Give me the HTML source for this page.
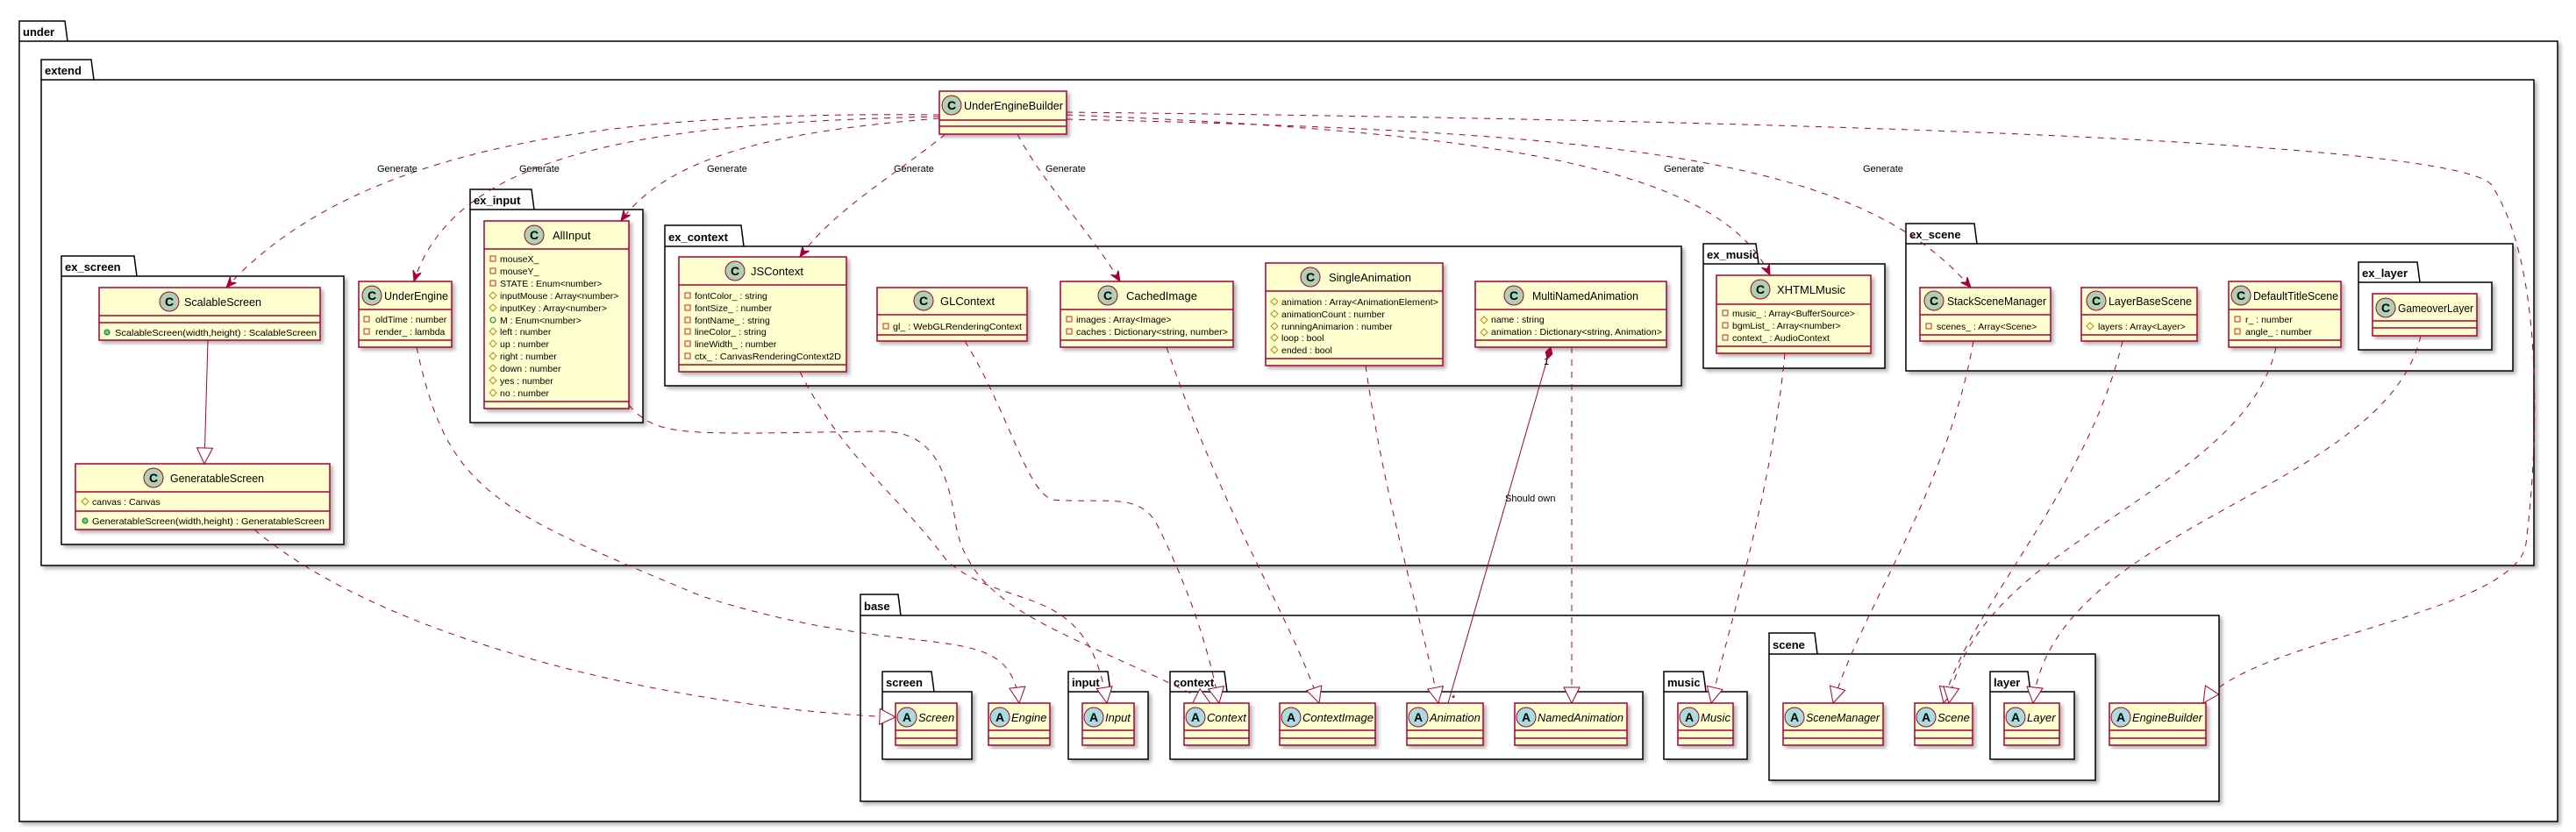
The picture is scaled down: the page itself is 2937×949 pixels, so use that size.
<!DOCTYPE html>
<html><head><meta charset="utf-8"><style>
html,body{margin:0;padding:0;background:#fff;}
svg{display:block;}
text{font-family:"Liberation Sans",sans-serif;}
.pk{font-weight:bold;font-size:13px;fill:#000;}
.cn{font-size:13px;fill:#000;}
.an{font-size:13px;fill:#000;font-style:italic;}
.m{font-size:10.5px;fill:#000;}
.lb{font-size:11px;fill:#000;}
.cl{fill:#FEFECE;stroke:#A80036;stroke-width:1.5;filter:url(#sh);}
.ln{stroke:#A80036;stroke-width:1.5;}
.pkg{fill:#fff;stroke:#000;stroke-width:1.5;filter:url(#sh);}
.tab{fill:#fff;stroke:#000;stroke-width:1.5;}
.ic{fill:#ADD1B2;stroke:#A80036;stroke-width:1;}
.ia{fill:#A9DCDF;stroke:#A80036;stroke-width:1;}
.il{font-size:14px;fill:#000;font-weight:bold;}
.e{fill:none;stroke:#A80036;stroke-width:1;stroke-dasharray:7,7;}
.es{fill:none;stroke:#A80036;stroke-width:1;}
.sq{fill:none;stroke:#C82930;stroke-width:1;}
.dm{fill:none;stroke:#B38D22;stroke-width:1;}
.pb{fill:#84BE84;stroke:#038048;stroke-width:1;}
.po{fill:none;stroke:#038048;stroke-width:1;}
</style></head><body>
<svg width="2937" height="949" viewBox="0 0 2937 949" xmlns="http://www.w3.org/2000/svg">
<defs>
<filter id="sh" x="-5%" y="-5%" width="115%" height="115%"><feDropShadow dx="3" dy="3" stdDeviation="2" flood-color="#000" flood-opacity="0.3"/></filter>
<marker id="ar" markerUnits="userSpaceOnUse" markerWidth="14" markerHeight="12" refX="12" refY="5" orient="auto"><path d="M0,0 L12,5 L0,10 L4,5 Z" fill="#A80036" stroke="#A80036"/></marker>
<marker id="tr" markerUnits="userSpaceOnUse" markerWidth="22" markerHeight="22" refX="19" refY="10" orient="auto"><path d="M1,1 L19,10 L1,19 Z" fill="#fff" stroke="#A80036" stroke-width="1"/></marker>
<marker id="dia" markerUnits="userSpaceOnUse" markerWidth="20" markerHeight="12" refX="1" refY="5" orient="auto"><path d="M1,5 L8,1 L15,5 L8,9 Z" fill="#A80036" stroke="#A80036"/></marker>
</defs>

<!-- Packages -->
<path class="tab" d="M22,47 V24 H74 L77,47"/><rect class="pkg" x="22" y="47" width="2894" height="890"/><text class="pk" x="26" y="41">under</text>
<path class="tab" d="M47,91 V68 H104 L107,91"/><rect class="pkg" x="47" y="91" width="2842" height="554"/><text class="pk" x="51" y="85">extend</text>
<path class="tab" d="M70,315 V292 H153 L156,315"/><rect class="pkg" x="70" y="315" width="322" height="306"/><text class="pk" x="74" y="309">ex_screen</text>
<path class="tab" d="M536,239 V216 H606 L609,239"/><rect class="pkg" x="536" y="239" width="197" height="243"/><text class="pk" x="540" y="233">ex_input</text>
<path class="tab" d="M758,281 V257 H845 L848,281"/><rect class="pkg" x="758" y="281" width="1159" height="159"/><text class="pk" x="762" y="275">ex_context</text>
<path class="tab" d="M1942,301 V278 H2002 L2005,301"/><rect class="pkg" x="1942" y="301" width="207" height="119"/><text class="pk" x="1946" y="295">ex_music</text>
<path class="tab" d="M2173,278 V255 H2251 L2254,278"/><rect class="pkg" x="2173" y="278" width="692" height="145"/><text class="pk" x="2177" y="272">ex_scene</text>
<path class="tab" d="M2689,322 V299 H2756 L2759,322"/><rect class="pkg" x="2689" y="322" width="152" height="77"/><text class="pk" x="2693" y="316">ex_layer</text>

<path class="tab" d="M981,702 V678 H1024 L1027,702"/><rect class="pkg" x="981" y="702" width="1549" height="212"/><text class="pk" x="985" y="696">base</text>
<path class="tab" d="M1006,789 V766 H1062 L1065,789"/><rect class="pkg" x="1006" y="789" width="102" height="77"/><text class="pk" x="1010" y="783">screen</text>
<path class="tab" d="M1218,789 V766 H1263 L1266,789"/><rect class="pkg" x="1218" y="789" width="91" height="77"/><text class="pk" x="1222" y="783">input</text>
<path class="tab" d="M1334,789 V766 H1396 L1399,789"/><rect class="pkg" x="1334" y="789" width="539" height="77"/><text class="pk" x="1338" y="783">context</text>
<path class="tab" d="M1897,789 V766 H1942 L1945,789"/><rect class="pkg" x="1897" y="789" width="95" height="77"/><text class="pk" x="1901" y="783">music</text>
<path class="tab" d="M2017,746 V722 H2069 L2072,746"/><rect class="pkg" x="2017" y="746" width="372" height="144"/><text class="pk" x="2021" y="740">scene</text>
<path class="tab" d="M2269,789 V766 H2312 L2315,789"/><rect class="pkg" x="2269" y="789" width="96" height="77"/><text class="pk" x="2273" y="783">layer</text>

<!-- Classes -->
<!-- UnderEngineBuilder -->
<rect class="cl" x="1071" y="104" width="145" height="49"/><line class="ln" x1="1071" y1="137" x2="1216" y2="137"/><line class="ln" x1="1071" y1="144" x2="1216" y2="144"/>
<circle class="ic" cx="1085" cy="120" r="11"/><text class="il" x="1080" y="125">C</text><text class="cn" x="1099" y="125" textLength="113" lengthAdjust="spacingAndGlyphs">UnderEngineBuilder</text>

<!-- ScalableScreen -->
<rect class="cl" x="113" y="328" width="252" height="60"/><line class="ln" x1="113" y1="360" x2="365" y2="360"/><line class="ln" x1="113" y1="368" x2="365" y2="368"/>
<circle class="ic" cx="193" cy="344" r="11"/><text class="il" x="188" y="349">C</text><text class="cn" x="210" y="349" textLength="88" lengthAdjust="spacingAndGlyphs">ScalableScreen</text>
<circle class="pb" cx="122" cy="379" r="3"/><text class="m" x="131" y="383" textLength="230" lengthAdjust="spacingAndGlyphs">ScalableScreen(width,height) : ScalableScreen</text>

<!-- GeneratableScreen -->
<rect class="cl" x="86" y="529" width="290" height="75"/><line class="ln" x1="86" y1="561" x2="376" y2="561"/><line class="ln" x1="86" y1="583" x2="376" y2="583"/>
<circle class="ic" cx="175" cy="545" r="11"/><text class="il" x="170" y="550">C</text><text class="cn" x="194" y="550" textLength="107" lengthAdjust="spacingAndGlyphs">GeneratableScreen</text>
<path class="dm" d="M97,568 L101,572 L97,576 L93,572 Z"/><text class="m" x="105" y="576">canvas : Canvas</text>
<circle class="pb" cx="97" cy="594" r="3"/><text class="m" x="105" y="598" textLength="265" lengthAdjust="spacingAndGlyphs">GeneratableScreen(width,height) : GeneratableScreen</text>

<!-- UnderEngine -->
<rect class="cl" x="409" y="321" width="106" height="75"/><line class="ln" x1="409" y1="353" x2="515" y2="353"/><line class="ln" x1="409" y1="388" x2="515" y2="388"/>
<circle class="ic" cx="424" cy="337" r="11"/><text class="il" x="419" y="342">C</text><text class="cn" x="438" y="342" textLength="73" lengthAdjust="spacingAndGlyphs">UnderEngine</text>
<rect class="sq" x="415" y="361" width="6" height="6"/><text class="m" x="428" y="368">oldTime : number</text>
<rect class="sq" x="415" y="375" width="6" height="6"/><text class="m" x="428" y="382">render_ : lambda</text>

<!-- AllInput -->
<rect class="cl" x="552" y="252" width="165" height="214"/><line class="ln" x1="552" y1="284" x2="717" y2="284"/><line class="ln" x1="552" y1="458" x2="717" y2="458"/>
<circle class="ic" cx="609" cy="268" r="11"/><text class="il" x="604" y="273">C</text><text class="cn" x="630" y="273">AllInput</text>
<rect class="sq" x="559" y="292" width="6" height="6"/><text class="m" x="570" y="299">mouseX_</text>
<rect class="sq" x="559" y="306" width="6" height="6"/><text class="m" x="570" y="313">mouseY_</text>
<rect class="sq" x="559" y="320" width="6" height="6"/><text class="m" x="570" y="327">STATE : Enum&lt;number&gt;</text>
<path class="dm" d="M562,333 L566,337 L562,341 L558,337 Z"/><text class="m" x="570" y="341">inputMouse : Array&lt;number&gt;</text>
<path class="dm" d="M562,347 L566,351 L562,355 L558,351 Z"/><text class="m" x="570" y="355">inputKey : Array&lt;number&gt;</text>
<circle class="po" cx="562" cy="365" r="3"/><text class="m" x="570" y="369">M : Enum&lt;number&gt;</text>
<path class="dm" d="M562,374 L566,378 L562,382 L558,378 Z"/><text class="m" x="570" y="382">left : number</text>
<path class="dm" d="M562,388 L566,392 L562,396 L558,392 Z"/><text class="m" x="570" y="396">up : number</text>
<path class="dm" d="M562,402 L566,406 L562,410 L558,406 Z"/><text class="m" x="570" y="410">right : number</text>
<path class="dm" d="M562,416 L566,420 L562,424 L558,420 Z"/><text class="m" x="570" y="424">down : number</text>
<path class="dm" d="M562,430 L566,434 L562,438 L558,434 Z"/><text class="m" x="570" y="438">yes : number</text>
<path class="dm" d="M562,444 L566,448 L562,452 L558,448 Z"/><text class="m" x="570" y="452">no : number</text>

<!-- JSContext -->
<rect class="cl" x="774" y="293" width="191" height="131"/><line class="ln" x1="774" y1="325" x2="965" y2="325"/><line class="ln" x1="774" y1="416" x2="965" y2="416"/>
<circle class="ic" cx="838" cy="309" r="11"/><text class="il" x="833" y="314">C</text><text class="cn" x="856" y="314">JSContext</text>
<rect class="sq" x="781" y="334" width="6" height="6"/><text class="m" x="792" y="341">fontColor_ : string</text>
<rect class="sq" x="781" y="348" width="6" height="6"/><text class="m" x="792" y="355">fontSize_ : number</text>
<rect class="sq" x="781" y="362" width="6" height="6"/><text class="m" x="792" y="369">fontName_ : string</text>
<rect class="sq" x="781" y="375" width="6" height="6"/><text class="m" x="792" y="382">lineColor_ : string</text>
<rect class="sq" x="781" y="389" width="6" height="6"/><text class="m" x="792" y="396">lineWidth_ : number</text>
<rect class="sq" x="781" y="403" width="6" height="6"/><text class="m" x="792" y="410" textLength="167" lengthAdjust="spacingAndGlyphs">ctx_ : CanvasRenderingContext2D</text>

<!-- GLContext -->
<rect class="cl" x="1000" y="328" width="171" height="61"/><line class="ln" x1="1000" y1="359" x2="1171" y2="359"/><line class="ln" x1="1000" y1="382" x2="1171" y2="382"/>
<circle class="ic" cx="1053" cy="343" r="11"/><text class="il" x="1048" y="348">C</text><text class="cn" x="1072" y="348">GLContext</text>
<rect class="sq" x="1007" y="369" width="6" height="6"/><text class="m" x="1018" y="376" textLength="147" lengthAdjust="spacingAndGlyphs">gl_ : WebGLRenderingContext</text>

<!-- CachedImage -->
<rect class="cl" x="1209" y="321" width="197" height="75"/><line class="ln" x1="1209" y1="353" x2="1406" y2="353"/><line class="ln" x1="1209" y1="388" x2="1406" y2="388"/>
<circle class="ic" cx="1263" cy="337" r="11"/><text class="il" x="1258" y="342">C</text><text class="cn" x="1284" y="342">CachedImage</text>
<rect class="sq" x="1216" y="361" width="6" height="6"/><text class="m" x="1227" y="368">images : Array&lt;Image&gt;</text>
<rect class="sq" x="1216" y="375" width="6" height="6"/><text class="m" x="1227" y="382" textLength="173" lengthAdjust="spacingAndGlyphs">caches : Dictionary&lt;string, number&gt;</text>

<!-- SingleAnimation -->
<rect class="cl" x="1443" y="300" width="202" height="117"/><line class="ln" x1="1443" y1="332" x2="1645" y2="332"/><line class="ln" x1="1443" y1="409" x2="1645" y2="409"/>
<circle class="ic" cx="1494" cy="316" r="11"/><text class="il" x="1489" y="321">C</text><text class="cn" x="1515" y="321">SingleAnimation</text>
<path class="dm" d="M1453,340 L1457,344 L1453,348 L1449,344 Z"/><text class="m" x="1461" y="348" textLength="179" lengthAdjust="spacingAndGlyphs">animation : Array&lt;AnimationElement&gt;</text>
<path class="dm" d="M1453,354 L1457,358 L1453,362 L1449,358 Z"/><text class="m" x="1461" y="362">animationCount : number</text>
<path class="dm" d="M1453,368 L1457,372 L1453,376 L1449,372 Z"/><text class="m" x="1461" y="376">runningAnimarion : number</text>
<path class="dm" d="M1453,381 L1457,385 L1453,389 L1449,385 Z"/><text class="m" x="1461" y="389">loop : bool</text>
<path class="dm" d="M1453,395 L1457,399 L1453,403 L1449,399 Z"/><text class="m" x="1461" y="403">ended : bool</text>

<!-- MultiNamedAnimation -->
<rect class="cl" x="1682" y="321" width="218" height="75"/><line class="ln" x1="1682" y1="353" x2="1900" y2="353"/><line class="ln" x1="1682" y1="388" x2="1900" y2="388"/>
<circle class="ic" cx="1726" cy="337" r="11"/><text class="il" x="1721" y="342">C</text><text class="cn" x="1747" y="342" textLength="121" lengthAdjust="spacingAndGlyphs">MultiNamedAnimation</text>
<path class="dm" d="M1692,361 L1696,365 L1692,369 L1688,365 Z"/><text class="m" x="1700" y="368">name : string</text>
<path class="dm" d="M1692,375 L1696,379 L1692,383 L1688,379 Z"/><text class="m" x="1700" y="382" textLength="195" lengthAdjust="spacingAndGlyphs">animation : Dictionary&lt;string, Animation&gt;</text>

<!-- XHTMLMusic -->
<rect class="cl" x="1957" y="314" width="176" height="89"/><line class="ln" x1="1957" y1="347" x2="2133" y2="347"/><line class="ln" x1="1957" y1="395" x2="2133" y2="395"/>
<circle class="ic" cx="2007" cy="330" r="11"/><text class="il" x="2002" y="335">C</text><text class="cn" x="2026" y="335">XHTMLMusic</text>
<rect class="sq" x="1964" y="354" width="6" height="6"/><text class="m" x="1975" y="361">music_ : Array&lt;BufferSource&gt;</text>
<rect class="sq" x="1964" y="368" width="6" height="6"/><text class="m" x="1975" y="375">bgmList_ : Array&lt;number&gt;</text>
<rect class="sq" x="1964" y="382" width="6" height="6"/><text class="m" x="1975" y="389">context_ : AudioContext</text>

<!-- StackSceneManager -->
<rect class="cl" x="2189" y="328" width="149" height="61"/><line class="ln" x1="2189" y1="359" x2="2338" y2="359"/><line class="ln" x1="2189" y1="382" x2="2338" y2="382"/>
<circle class="ic" cx="2205" cy="343" r="11"/><text class="il" x="2200" y="348">C</text><text class="cn" x="2220" y="348" textLength="113" lengthAdjust="spacingAndGlyphs">StackSceneManager</text>
<rect class="sq" x="2196" y="369" width="6" height="6"/><text class="m" x="2208" y="376">scenes_ : Array&lt;Scene&gt;</text>

<!-- LayerBaseScene -->
<rect class="cl" x="2373" y="328" width="132" height="61"/><line class="ln" x1="2373" y1="359" x2="2505" y2="359"/><line class="ln" x1="2373" y1="382" x2="2505" y2="382"/>
<circle class="ic" cx="2390" cy="343" r="11"/><text class="il" x="2385" y="348">C</text><text class="cn" x="2404" y="348" textLength="95" lengthAdjust="spacingAndGlyphs">LayerBaseScene</text>
<path class="dm" d="M2383,368 L2387,372 L2383,376 L2379,372 Z"/><text class="m" x="2392" y="376">layers : Array&lt;Layer&gt;</text>

<!-- DefaultTitleScene -->
<rect class="cl" x="2541" y="321" width="128" height="75"/><line class="ln" x1="2541" y1="353" x2="2669" y2="353"/><line class="ln" x1="2541" y1="388" x2="2669" y2="388"/>
<circle class="ic" cx="2555" cy="337" r="11"/><text class="il" x="2550" y="342">C</text><text class="cn" x="2569" y="342" textLength="97" lengthAdjust="spacingAndGlyphs">DefaultTitleScene</text>
<rect class="sq" x="2548" y="361" width="6" height="6"/><text class="m" x="2560" y="368">r_ : number</text>
<rect class="sq" x="2548" y="375" width="6" height="6"/><text class="m" x="2560" y="382">angle_ : number</text>

<!-- GameoverLayer -->
<rect class="cl" x="2705" y="335" width="119" height="48"/><line class="ln" x1="2705" y1="366" x2="2824" y2="366"/><line class="ln" x1="2705" y1="374" x2="2824" y2="374"/>
<circle class="ic" cx="2720" cy="351" r="11"/><text class="il" x="2715" y="356">C</text><text class="cn" x="2734" y="356" textLength="86" lengthAdjust="spacingAndGlyphs">GameoverLayer</text>

<!-- Abstract classes -->
<g>
<rect class="cl" x="1021" y="802" width="70" height="48"/><line class="ln" x1="1021" y1="833" x2="1091" y2="833"/><line class="ln" x1="1021" y1="842" x2="1091" y2="842"/><circle class="ia" cx="1034" cy="818" r="11"/><text class="il" x="1029" y="823">A</text><text class="an" x="1047" y="823">Screen</text>
<rect class="cl" x="1127" y="802" width="70" height="48"/><line class="ln" x1="1127" y1="833" x2="1197" y2="833"/><line class="ln" x1="1127" y1="842" x2="1197" y2="842"/><circle class="ia" cx="1140" cy="818" r="11"/><text class="il" x="1135" y="823">A</text><text class="an" x="1153" y="823">Engine</text>
<rect class="cl" x="1234" y="802" width="59" height="48"/><line class="ln" x1="1234" y1="833" x2="1293" y2="833"/><line class="ln" x1="1234" y1="842" x2="1293" y2="842"/><circle class="ia" cx="1247" cy="818" r="11"/><text class="il" x="1242" y="823">A</text><text class="an" x="1260" y="823">Input</text>
<rect class="cl" x="1350" y="802" width="74" height="48"/><line class="ln" x1="1350" y1="833" x2="1424" y2="833"/><line class="ln" x1="1350" y1="842" x2="1424" y2="842"/><circle class="ia" cx="1363" cy="818" r="11"/><text class="il" x="1358" y="823">A</text><text class="an" x="1376" y="823">Context</text>
<rect class="cl" x="1459" y="802" width="109" height="48"/><line class="ln" x1="1459" y1="833" x2="1568" y2="833"/><line class="ln" x1="1459" y1="842" x2="1568" y2="842"/><circle class="ia" cx="1472" cy="818" r="11"/><text class="il" x="1467" y="823">A</text><text class="an" x="1485" y="823">ContextImage</text>
<rect class="cl" x="1604" y="802" width="87" height="48"/><line class="ln" x1="1604" y1="833" x2="1691" y2="833"/><line class="ln" x1="1604" y1="842" x2="1691" y2="842"/><circle class="ia" cx="1617" cy="818" r="11"/><text class="il" x="1612" y="823">A</text><text class="an" x="1630" y="823">Animation</text>
<rect class="cl" x="1727" y="802" width="128" height="48"/><line class="ln" x1="1727" y1="833" x2="1855" y2="833"/><line class="ln" x1="1727" y1="842" x2="1855" y2="842"/><circle class="ia" cx="1740" cy="818" r="11"/><text class="il" x="1735" y="823">A</text><text class="an" x="1753" y="823" textLength="98" lengthAdjust="spacingAndGlyphs">NamedAnimation</text>
<rect class="cl" x="1913" y="802" width="63" height="48"/><line class="ln" x1="1913" y1="833" x2="1976" y2="833"/><line class="ln" x1="1913" y1="842" x2="1976" y2="842"/><circle class="ia" cx="1926" cy="818" r="11"/><text class="il" x="1921" y="823">A</text><text class="an" x="1939" y="823">Music</text>
<rect class="cl" x="2033" y="802" width="114" height="48"/><line class="ln" x1="2033" y1="833" x2="2147" y2="833"/><line class="ln" x1="2033" y1="842" x2="2147" y2="842"/><circle class="ia" cx="2046" cy="818" r="11"/><text class="il" x="2041" y="823">A</text><text class="an" x="2059" y="823" textLength="84" lengthAdjust="spacingAndGlyphs">SceneManager</text>
<rect class="cl" x="2183" y="802" width="66" height="48"/><line class="ln" x1="2183" y1="833" x2="2249" y2="833"/><line class="ln" x1="2183" y1="842" x2="2249" y2="842"/><circle class="ia" cx="2196" cy="818" r="11"/><text class="il" x="2191" y="823">A</text><text class="an" x="2209" y="823">Scene</text>
<rect class="cl" x="2285" y="802" width="63" height="48"/><line class="ln" x1="2285" y1="833" x2="2348" y2="833"/><line class="ln" x1="2285" y1="842" x2="2348" y2="842"/><circle class="ia" cx="2298" cy="818" r="11"/><text class="il" x="2293" y="823">A</text><text class="an" x="2311" y="823">Layer</text>
<rect class="cl" x="2405" y="802" width="110" height="48"/><line class="ln" x1="2405" y1="833" x2="2515" y2="833"/><line class="ln" x1="2405" y1="842" x2="2515" y2="842"/><circle class="ia" cx="2418" cy="818" r="11"/><text class="il" x="2413" y="823">A</text><text class="an" x="2431" y="823" textLength="80" lengthAdjust="spacingAndGlyphs">EngineBuilder</text>
</g>

<!-- Generate edges -->
<path class="e" marker-end="url(#ar)" d="M1071,131 C 750,128 420,150 258,328"/>
<text class="lb" x="430" y="196">Generate</text>
<path class="e" marker-end="url(#ar)" d="M1071,133 C 750,140 520,170 472,321"/>
<text class="lb" x="592" y="196">Generate</text>
<path class="e" marker-end="url(#ar)" d="M1071,135 C 880,150 760,180 708,252"/>
<text class="lb" x="806" y="196">Generate</text>
<path class="e" marker-end="url(#ar)" d="M1078,153 C 1020,200 950,240 912,293"/>
<text class="lb" x="1019" y="196">Generate</text>
<path class="e" marker-end="url(#ar)" d="M1160,153 C 1190,210 1240,260 1277,321"/>
<text class="lb" x="1192" y="196">Generate</text>
<path class="e" marker-end="url(#ar)" d="M1216,131 C 1700,150 1960,190 2018,314"/>
<text class="lb" x="1897" y="196">Generate</text>
<path class="e" marker-end="url(#ar)" d="M1216,136 C 1850,150 2120,180 2247,328"/>
<text class="lb" x="2124" y="196">Generate</text>
<path class="e" marker-end="url(#tr)" d="M1216,128 C 2300,140 2800,170 2840,210 C 2900,300 2895,500 2880,620 C 2870,700 2560,730 2512,802"/>

<!-- Extension ScalableScreen -> GeneratableScreen -->
<path class="es" marker-end="url(#tr)" d="M237,388 L233,529"/>

<!-- Realization edges -->
<path class="e" marker-end="url(#tr)" d="M290,604 C 450,740 800,810 1021,818"/>
<path class="e" marker-end="url(#tr)" d="M475,396 C 510,560 560,580 800,680 C 1050,760 1150,700 1162,802"/>
<path class="e" marker-end="url(#tr)" d="M717,462 C 750,500 780,495 1000,492 C 1060,490 1080,530 1090,600 C 1110,700 1220,720 1380,802"/>
<path class="e" marker-end="url(#tr)" d="M912,424 C 960,520 1020,560 1080,640 C 1150,700 1240,660 1262,802"/>
<path class="e" marker-end="url(#tr)" d="M1100,389 C 1150,470 1170,560 1200,570 C 1260,575 1300,560 1320,600 C 1360,680 1380,750 1390,802"/>
<path class="e" marker-end="url(#tr)" d="M1330,396 C 1400,600 1470,700 1504,802"/>
<path class="e" marker-end="url(#tr)" d="M1557,417 C 1580,580 1620,700 1640,802"/>
<path class="e" marker-end="url(#tr)" d="M1792,396 L1792,802"/>
<path class="e" marker-end="url(#tr)" d="M2035,403 C 2020,560 1975,700 1951,802"/>
<path class="e" marker-end="url(#tr)" d="M2250,389 C 2220,560 2120,700 2090,802"/>
<path class="e" marker-end="url(#tr)" d="M2420,389 C 2380,560 2240,700 2216,802"/>
<path class="e" marker-end="url(#tr)" d="M2595,396 C 2560,560 2250,620 2222,802"/>
<path class="e" marker-end="url(#tr)" d="M2760,383 C 2720,560 2340,600 2318,802"/>

<!-- Composition -->
<path class="es" marker-start="url(#dia)" d="M1768,396 C 1720,560 1680,700 1651,802"/>
<text class="lb" x="1716" y="572">Should own</text>
<text class="lb" x="1655" y="800">*</text>
<text class="lb" x="1760" y="416">1</text>
</svg>
</body></html>
